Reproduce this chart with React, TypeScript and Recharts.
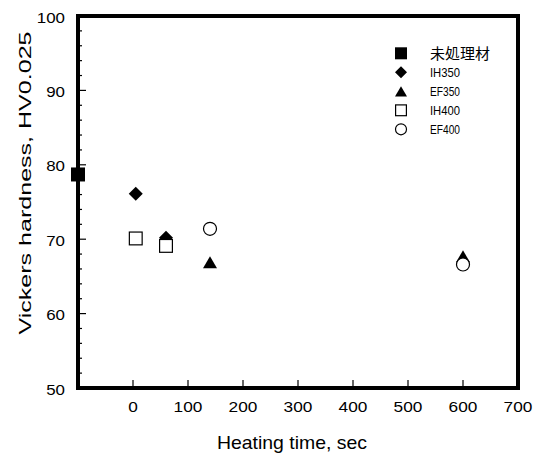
import { ScatterChart, Scatter, XAxis, YAxis, Legend, Label } from "recharts"

const FONT = '"Liberation Sans", Arial, "Noto Sans CJK JP", sans-serif'

// series, in drawing order
const seriesNames = ["未処理材", "IH350", "EF350", "IH400", "EF400"]

const untreatedTime = [-100]
const untreatedHv = [78.7]

const ih350Time = [5, 60]
const ih350Hv = [76.1, 70.2]

const ef350Time = [140, 600]
const ef350Hv = [66.9, 67.7]

const ih400Time = [5, 60]
const ih400Hv = [70.1, 69.1]

const ef400Time = [140, 600]
const ef400Hv = [71.4, 66.6]

const xTicks = [0, 100, 200, 300, 400, 500, 600, 700]
const yTicks = [50, 52, 54, 56, 58, 60, 62, 64, 66, 68, 70, 72, 74, 76, 78, 80, 82, 84, 86, 88, 90, 92, 94, 96, 98, 100]
const yLabels = [50, 60, 70, 80, 90, 100]

const zip = (xs: number[], ys: number[]) => xs.map((x, i) => ({ time: x, hv: ys[i] }))

// chart layout
const W = 536
const H = 454
const MARGIN = { top: 16, right: 18, bottom: 0, left: 0 }
const Y_AXIS_W = 78
const X_AXIS_H = 66
const FRAME_W = 4

type Kind = "filledSquare" | "diamond" | "triangle" | "openSquare" | "circle"

const KINDS: Record<string, Kind> = {
  "未処理材": "filledSquare",
  IH350: "diamond",
  EF350: "triangle",
  IH400: "openSquare",
  EF400: "circle",
}

function Marker({ kind, cx, cy, s }: { kind: Kind; cx: number; cy: number; s: number }) {
  const h = s / 2
  switch (kind) {
    case "filledSquare":
      return <rect x={cx - h} y={cy - h} width={s} height={s} fill="#000" />
    case "diamond":
      return <polygon points={`${cx},${cy - h} ${cx + h},${cy} ${cx},${cy + h} ${cx - h},${cy}`} fill="#000" />
    case "triangle": {
      const th = s * 0.85
      return (
        <polygon
          points={`${cx},${cy - th / 2} ${cx + h},${cy + th / 2} ${cx - h},${cy + th / 2}`}
          fill="#000"
        />
      )
    }
    case "openSquare":
      return (
        <rect x={cx - h + 0.6} y={cy - h + 0.6} width={s - 1.2} height={s - 1.2} fill="#fff" stroke="#000" strokeWidth={1.2} />
      )
    case "circle":
      return <circle cx={cx} cy={cy} r={h - 0.5} fill="#fff" stroke="#000" strokeWidth={1.2} />
  }
}

const Y_GAP = 13
const X_GAP = 14

function LeftTick(props: any) {
  const { x, y, payload } = props
  const v = payload.value
  const major = yLabels.includes(v)
  const edge = x + Y_GAP
  const label = String(v)
  return (
    <g>
      <line x1={edge} x2={edge + (major ? 8 : 4)} y1={y} y2={y} stroke="#000" strokeWidth={1.2} />
      {major && (
        <text
          x={x}
          y={y + 6.5}
          textAnchor="end"
          fontSize={14}
          fontFamily={FONT}
          fill="#000"
          textLength={label.length * 9.4}
          lengthAdjust="spacingAndGlyphs"
        >
          {label}
        </text>
      )}
    </g>
  )
}

function RightTick(props: any) {
  const { x, y, payload } = props
  const major = yLabels.includes(payload.value)
  return <line x1={x} x2={x - (major ? 8 : 4)} y1={y} y2={y} stroke="#000" strokeWidth={1.2} />
}

function BottomTick(props: any) {
  const { x, y, payload } = props
  const edge = y - X_GAP
  const label = String(payload.value)
  return (
    <g>
      <line x1={x} x2={x} y1={edge} y2={edge - 8} stroke="#000" strokeWidth={1.2} />
      <text
        x={x}
        y={y + 10}
        textAnchor="middle"
        fontSize={14}
        fontFamily={FONT}
        fill="#000"
        textLength={label.length * 9.6}
        lengthAdjust="spacingAndGlyphs"
      >
        {label}
      </text>
    </g>
  )
}

function TopTick(props: any) {
  const { x, y } = props
  return <line x1={x} x2={x} y1={y} y2={y + 8} stroke="#000" strokeWidth={1.2} />
}

function YTitle(props: any) {
  const { x, y, height } = props.viewBox
  const cx = x + 30.5
  const cy = y + height / 2 - 19
  return (
    <text
      transform={`translate(${cx},${cy}) rotate(-90)`}
      textAnchor="middle"
      fontSize={16.5}
      fontFamily={FONT}
      fill="#000"
      textLength={303}
      lengthAdjust="spacingAndGlyphs"
    >
      Vickers hardness, HV0.025
    </text>
  )
}

function XTitle(props: any) {
  const { x, y, width } = props.viewBox
  return (
    <text
      x={x + width / 2 - 6}
      y={y + 61}
      textAnchor="middle"
      fontSize={18.5}
      fontFamily={FONT}
      fill="#000"
      textLength={150}
      lengthAdjust="spacingAndGlyphs"
    >
      Heating time, sec
    </text>
  )
}

function LegendBox() {
  return (
    <svg width={130} height={100} style={{ display: "block" }}>
      {seriesNames.map((name, i) => {
        const cy = 10.3 + i * 19
        const cjk = name === "未処理材"
        return (
          <g key={name}>
            <Marker kind={KINDS[name]} cx={11} cy={cy} s={12} />
            <text x={40} y={cy + (cjk ? 5.5 : 4.8)} fontSize={cjk ? 15 : 13.5} fontFamily={FONT} fill="#000"
              textLength={cjk ? 60 : 30} lengthAdjust="spacingAndGlyphs">
              {name}
            </text>
          </g>
        )
      })}
    </svg>
  )
}

const shapeFor = (name: string) => (p: any) => <Marker kind={KINDS[name]} cx={p.cx} cy={p.cy} s={14} />

export default function App() {
  const seriesData = [
    zip(untreatedTime, untreatedHv),
    zip(ih350Time, ih350Hv),
    zip(ef350Time, ef350Hv),
    zip(ih400Time, ih400Hv),
    zip(ef400Time, ef400Hv),
  ]

  // plot box, same numbers the chart uses for its own layout
  const plotLeft = MARGIN.left + Y_AXIS_W
  const plotTop = MARGIN.top
  const plotW = W - MARGIN.right - plotLeft
  const plotH = H - MARGIN.bottom - X_AXIS_H - plotTop

  return (
    <div style={{ position: "absolute", left: 0, top: 0, width: W, height: H, background: "#fff" }}>
      <ScatterChart width={W} height={H} margin={MARGIN}>
        <XAxis
          dataKey="time"
          type="number"
          domain={[-100, 700]}
          ticks={xTicks}
          interval={0}
          height={X_AXIS_H}
          axisLine={false}
          tickLine={false}
          tickSize={0}
          tickMargin={X_GAP}
          tick={BottomTick}
        >
          <Label content={XTitle} />
        </XAxis>
        <XAxis
          xAxisId="top"
          orientation="top"
          type="number"
          domain={[-100, 700]}
          allowDataOverflow
          ticks={xTicks}
          interval={0}
          height={0}
          axisLine={false}
          tickLine={false}
          tickSize={0}
          tickMargin={0}
          tick={TopTick}
        />
        <YAxis
          dataKey="hv"
          type="number"
          domain={[50, 100]}
          ticks={yTicks}
          interval={0}
          width={Y_AXIS_W}
          axisLine={false}
          tickLine={false}
          tickSize={0}
          tickMargin={Y_GAP}
          tick={LeftTick}
        >
          <Label content={YTitle} />
        </YAxis>
        <YAxis
          yAxisId="right"
          orientation="right"
          type="number"
          domain={[50, 100]}
          allowDataOverflow
          ticks={yTicks}
          interval={0}
          width={0}
          axisLine={false}
          tickLine={false}
          tickSize={0}
          tickMargin={0}
          tick={RightTick}
        />
        <Legend
          layout="horizontal"
          verticalAlign="middle"
          align="center"
          content={LegendBox}
          wrapperStyle={{ left: 390, top: 43, width: 130, height: 100 }}
        />
        {seriesNames.map((name, i) => (
          <Scatter
            key={name}
            name={name}
            data={seriesData[i]}
            fill="#000"
            shape={shapeFor(name)}
            isAnimationActive={false}
          />
        ))}
      </ScatterChart>
      <div
        style={{
          position: "absolute",
          left: plotLeft - FRAME_W / 2,
          top: plotTop - FRAME_W / 2,
          width: plotW + FRAME_W,
          height: plotH + FRAME_W,
          border: `${FRAME_W}px solid #000`,
          boxSizing: "border-box",
          pointerEvents: "none",
        }}
      />
    </div>
  )
}
